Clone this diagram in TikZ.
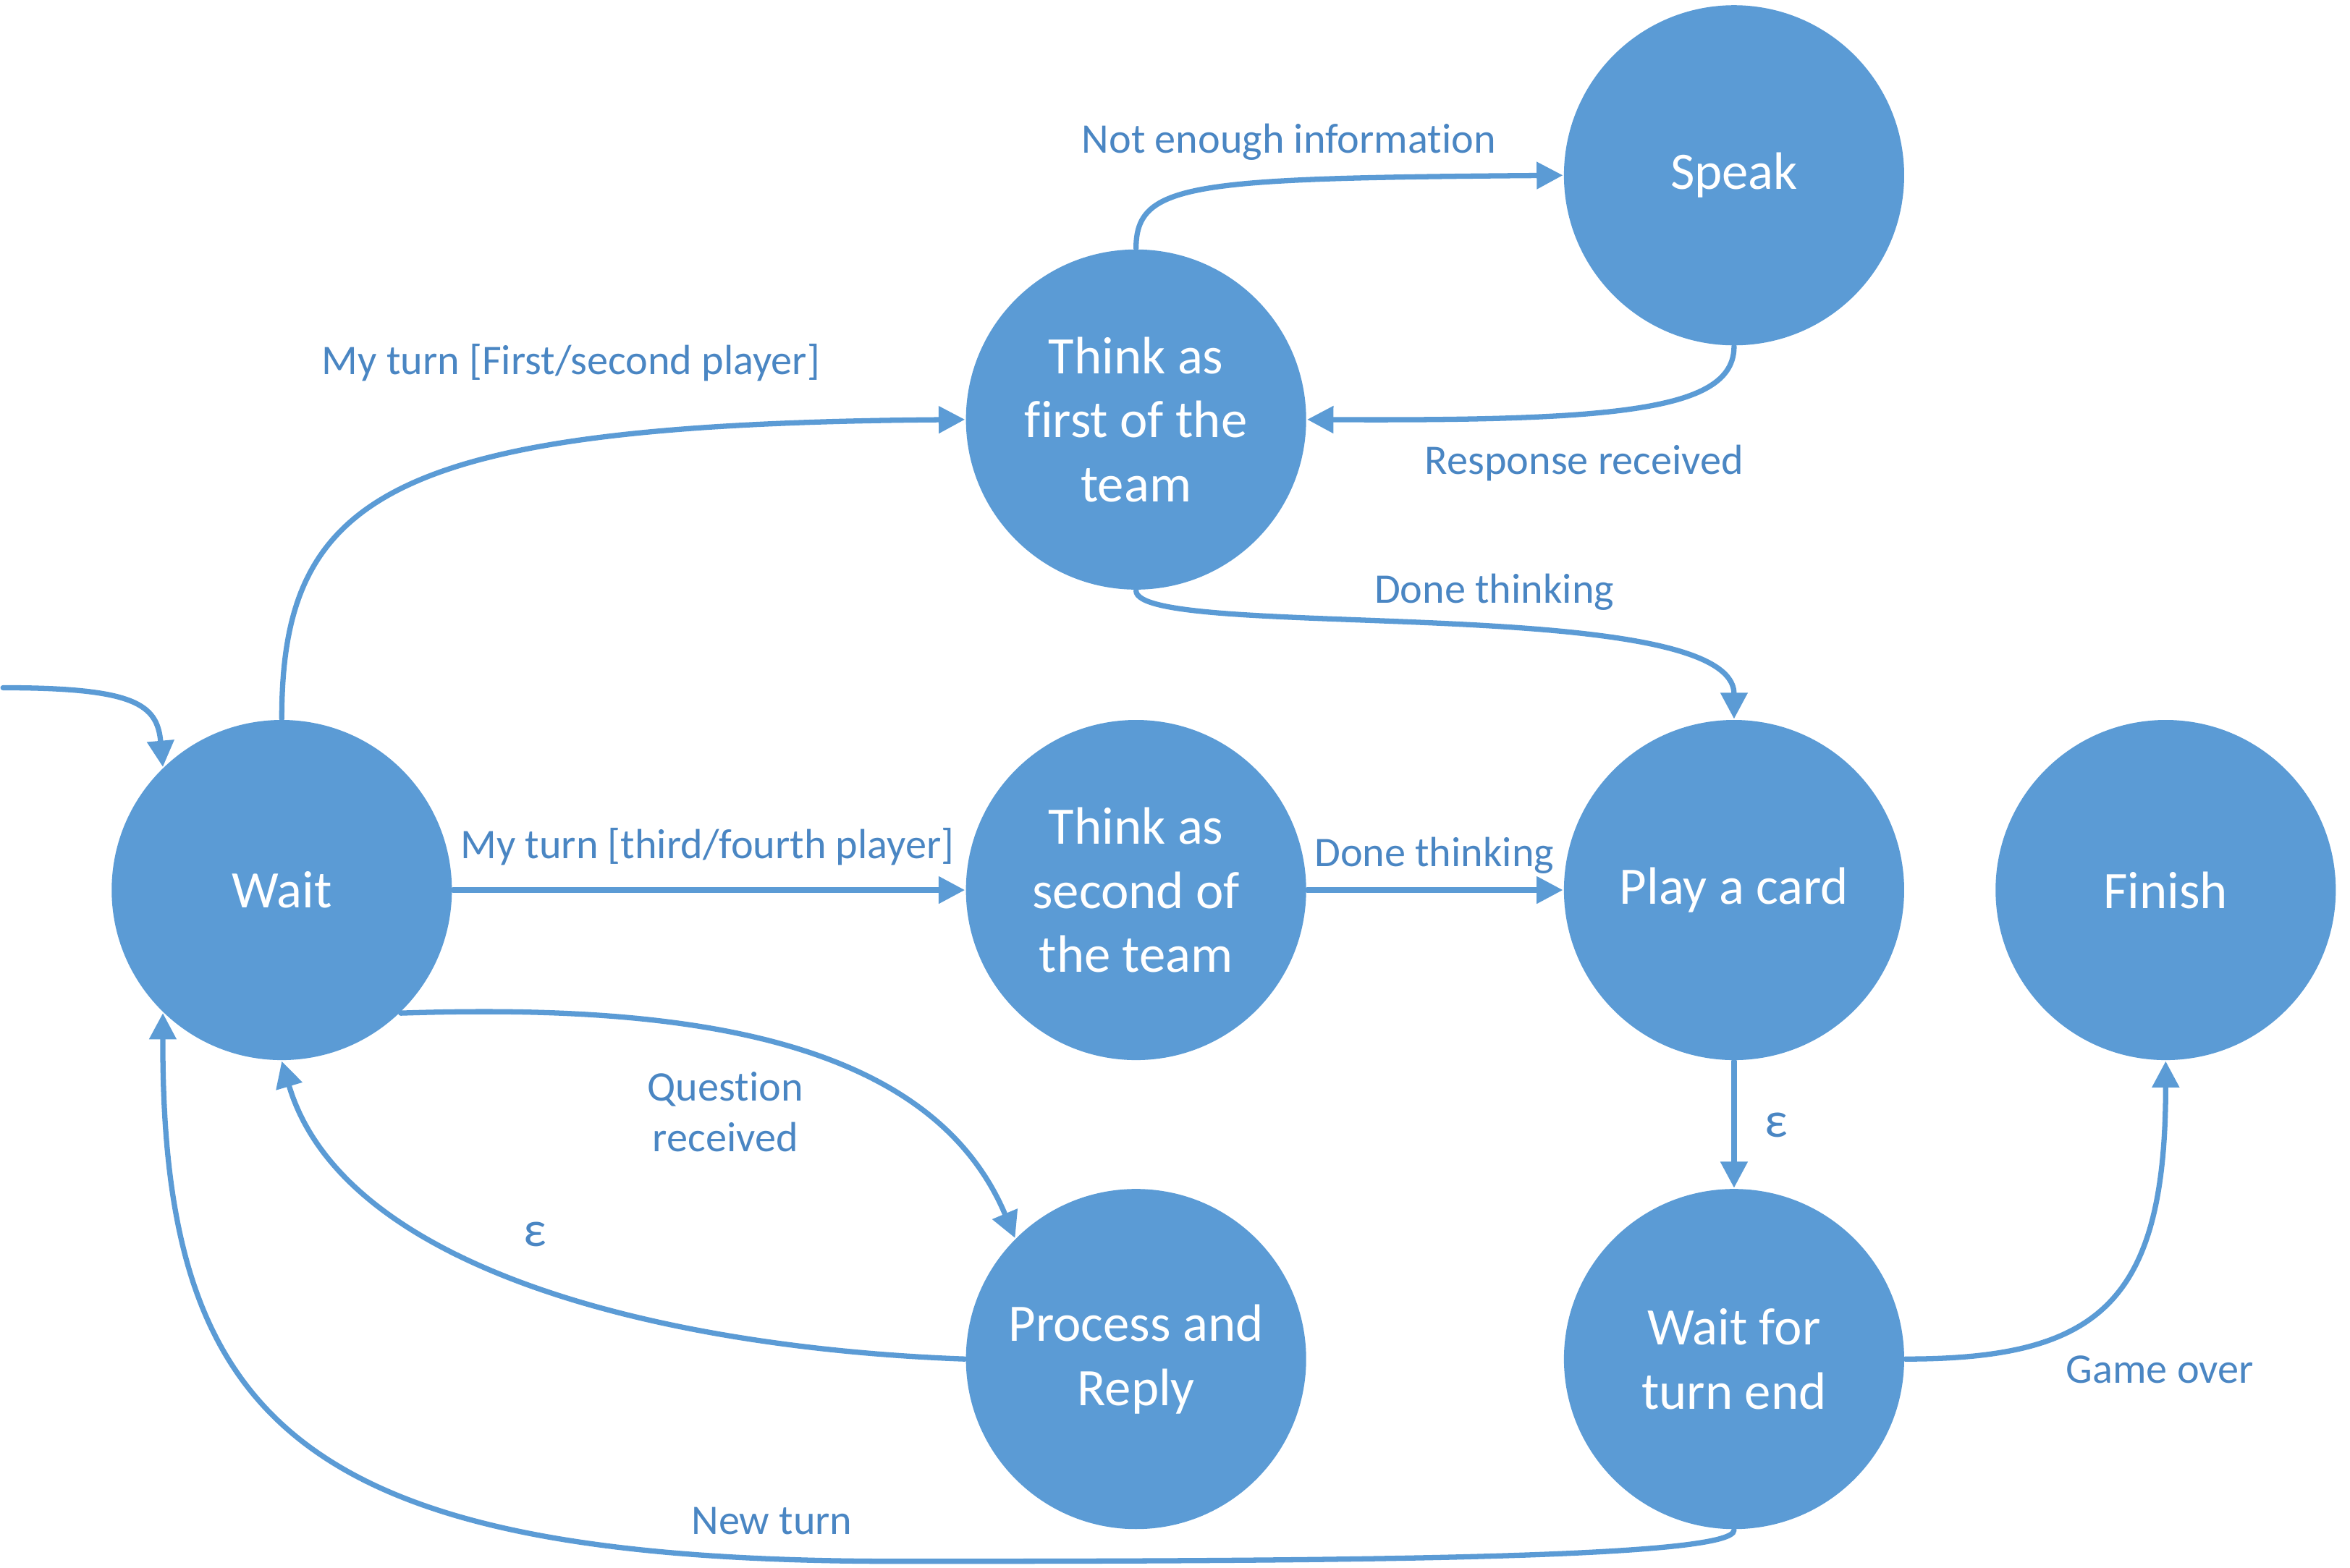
\documentclass[tikz,border=0pt]{standalone}
\usepackage{fontspec}
\setmainfont{Carlito}[Ligatures=NoCommon]
\usetikzlibrary{arrows.meta}
\definecolor{stateblue}{HTML}{5B9BD5}
\definecolor{labelblue}{HTML}{4A86C3}

\begin{document}
\begin{tikzpicture}
        [state/.style={circle,fill=stateblue,text=white,minimum size=2.27cm,inner sep=0pt,align=center,font=\fontsize{10}{12.2}\selectfont},
         lbl/.style={text=labelblue,inner sep=0pt,align=center,font=\fontsize{8}{9.6}\selectfont},
         eps/.style={text=labelblue,inner sep=0pt,font=\fontsize{9.5}{11}\selectfont},
         trans/.style={draw=stateblue,line width=1pt,line cap=round,-{Triangle[length=1.75mm,width=1.75mm]}}]
        % the states of the player
        \useasboundingbox (0,0) rectangle (15.68,-10.46);

        \node[state] (wait) at (1.88,-5.94) {Wait};
        \node[state] (first) at (7.58,-2.80) {Think as\\first of the\\team};
        \node[state] (speak) at (11.57,-1.17) {Speak};
        \node[state] (second) at (7.58,-5.94) {Think as\\second of\\the team};
        \node[state] (play) at (11.57,-5.94) {Play a card};
        \node[state] (finish) at (14.45,-5.94) {Finish};
        \node[state] (reply) at (7.58,-9.07) {Process and\\Reply};
        \node[state] (turnend) at (11.57,-9.07) {Wait for\\turn end};

        \coordinate (start) at (0.02,-4.59);

        % transitions
        \draw[trans] (start) .. controls (0.90,-4.59) and (1.05,-4.70) .. (wait.134);
        \draw[trans] (wait.north) .. controls (1.88,-3.30) and (2.60,-2.83) .. (first.west);
        \draw[trans] (first.north) .. controls (7.58,-1.22) and (7.95,-1.19) .. (speak.west);
        \draw[trans] (speak.south) .. controls (11.57,-2.74) and (10.80,-2.81) .. (first.east);
        \draw[trans] (first.south) .. controls (7.58,-4.28) and (11.57,-3.95) .. (play.north);
        \draw[trans] (wait.east) -- (second.west);
        \draw[trans] (second.east) -- (play.west);
        \draw[trans] (play.south) -- (turnend.north);
        \draw[trans] (turnend.east) .. controls (14.00,-9.07) and (14.45,-8.70) .. (finish.south);
        \draw[trans] (wait.-46) .. controls (4.50,-6.70) and (6.20,-6.90) .. (reply.135);
        \draw[trans] (reply.west) .. controls (4.50,-9.00) and (2.30,-8.50) .. (wait.south);
        \draw[trans] (turnend.south) .. controls (11.57,-10.40) and (9.00,-10.42) .. (6.00,-10.42)
                .. controls (2.00,-10.42) and (1.08,-9.50) .. (wait.226);

        % labels of the transitions
        \node[lbl] (l1) at (8.60,-0.95) {Not enough information};
        \node[lbl] (l2) at (3.81,-2.42) {My turn [First/second player]};
        \node[lbl] (l3) at (10.57,-3.09) {Response received};
        \node[lbl] (l4) at (9.97,-3.95) {Done thinking};
        \node[lbl] (l5) at (4.72,-5.65) {My turn [third/fourth player]};
        \node[lbl] (l6) at (9.57,-5.71) {Done thinking};
        \node[eps] (l7) at (11.85,-7.51) {ε};
        \node[lbl] (l8) at (4.84,-7.42) {Question\\received};
        \node[eps] (l9) at (3.57,-8.24) {ε};
        \node[lbl] (l10) at (14.41,-9.14) {Game over};
        \node[lbl] (l11) at (5.15,-10.15) {New turn};

\end{tikzpicture}
\end{document}
